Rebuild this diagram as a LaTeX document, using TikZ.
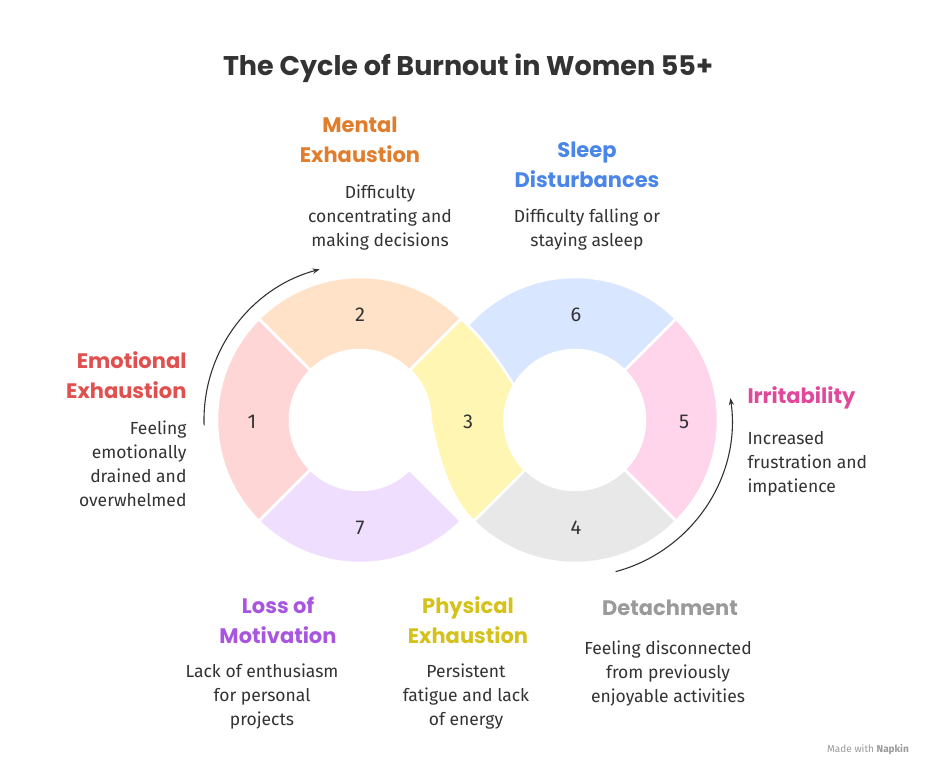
\documentclass[tikz,border=0pt]{standalone}
\usepackage{fontspec}
\setmainfont{Fira Sans}
\newfontfamily\headfont{Poppins}
\usetikzlibrary{arrows.meta,calc}
\definecolor{cR}{HTML}{FFD6D6}\definecolor{tR}{HTML}{E0504F}
\definecolor{cO}{HTML}{FFE2C8}\definecolor{tO}{HTML}{E07E2E}
\definecolor{cY}{HTML}{FFF6B3}\definecolor{tY}{HTML}{D4C21A}
\definecolor{cB}{HTML}{D9E6FF}\definecolor{tB}{HTML}{4A86E8}
\definecolor{cP}{HTML}{FFD5EC}\definecolor{tP}{HTML}{E0489C}
\definecolor{cG}{HTML}{E8E8E8}\definecolor{tG}{HTML}{9A9A9A}
\definecolor{cV}{HTML}{F0DEFF}\definecolor{tV}{HTML}{A855E0}
\definecolor{ink}{HTML}{333333}
\begin{document}
\begin{tikzpicture}[x=1pt,y=-1pt,
  seg/.style={draw=white,line width=2.5pt},
  num/.style={font=\fontsize{20}{24}\selectfont,text=ink},
  head/.style={font=\headfont\bfseries\fontsize{21}{30}\selectfont,align=center},
  body/.style={font=\fontsize{17.5}{24}\selectfont,text=ink,align=center},
  arr/.style={draw=ink,line width=1.1pt,-{Stealth[length=7pt]}}]
\useasboundingbox[fill=white] (0,0) rectangle (936,768);
\def\ring#1#2#3#4#5{\fill[#5,seg] ($(#1,#2)+(#3:143)$) arc[start angle=#3,end angle=#4,radius=143] -- ($(#1,#2)+(#4:70)$) arc[start angle=#4,end angle=#3,radius=70] -- cycle;}
\ring{360}{420}{-45}{-135}{cO}
\ring{360}{420}{-135}{-225}{cR}
\ring{360}{420}{-225}{-315}{cV}
\ring{575}{420}{-45}{-150}{cB}
\ring{575}{420}{45}{-45}{cP}
\ring{575}{420}{160}{45}{cG}
\fill[cY,seg] (410,370) arc[start angle=-45,end angle=0,radius=70]
  .. controls (440,470) and (455,505) .. (474,521) -- (525,470)
  arc[start angle=135,end angle=210,radius=70]
  .. controls (500,362) and (480,335) .. (461,319) -- cycle;
\node[num] (n1) at (252,422) {1};
\node[num] (n2) at (360,315) {2};
\node[num] (n3) at (468,422) {3};
\node[num] (n4) at (576,528) {4};
\node[num] (n5) at (684,422) {5};
\node[num] (n6) at (576,315) {6};
\node[num] (n7) at (360,528) {7};
\coordinate (a1) at ($(360,420)+(178:156)$);
\draw[arr] (a1) arc[start angle=178,end angle=255,radius=156];
\coordinate (a2) at ($(575,420)+(75:157)$);
\draw[arr] (a2) arc[start angle=75,end angle=-8,radius=157];
\node[head,text=ink,font=\headfont\bfseries\fontsize{27}{30}\selectfont] (title) at (468,68) {The Cycle of Burnout in Women 55+};
\node[head,text=tO] (h2) at (360,140) {Mental\\Exhaustion};
\node[body] (b2) at (380,218) {Difficulty\\concentrating and\\making decisions};
\node[head,text=tB] (h6) at (587,165) {Sleep\\Disturbances};
\node[body] (b6) at (587,230) {Difficulty falling or\\staying asleep};
\node[head,text=tR,align=right,anchor=east] (h1) at (190,375) {Emotional\\Exhaustion};
\node[body,align=right,anchor=east] (b1) at (190,464) {Feeling\\emotionally\\drained and\\overwhelmed};
\node[head,text=tP,anchor=west] (h5) at (744,398) {Irritability};
\node[body,align=left,anchor=west] (b5) at (744,464) {Increased\\frustration and\\impatience};
\node[head,text=tV] (h7) at (278,620) {Loss of\\Motivation};
\node[body] (b7) at (262,697) {Lack of enthusiasm\\for personal\\projects};
\node[head,text=tY] (h3) at (468,620) {Physical\\Exhaustion};
\node[body] (b3) at (466,697) {Persistent\\fatigue and lack\\of energy};
\node[head,text=tG] (h4) at (670,608) {Detachment};
\node[body] (b4) at (668,674) {Feeling disconnected\\from previously\\enjoyable activities};
\node[font=\fontsize{10}{12}\selectfont,text=tG] (mw) at (868,750) {Made with \textbf{Napkin}};
\end{tikzpicture}
\end{document}
